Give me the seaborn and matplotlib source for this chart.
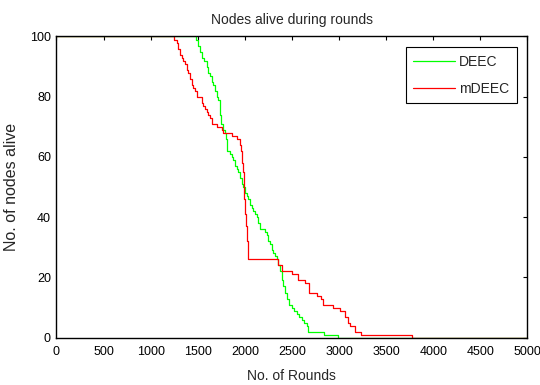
import numpy as np
import pandas as pd
import matplotlib
matplotlib.use("Agg")
import matplotlib.pyplot as plt
import seaborn as sns

# rounds at which the alive count changes (step data)
deec_rounds = [0, 1480, 1500, 1523, 1545, 1570, 1594, 1612, 1630, 1648, 1665, 1682,
               1700, 1718, 1736, 1740, 1745, 1771, 1789, 1800, 1807, 1842, 1860, 1877,
               1895, 1912, 1930, 1948, 1966, 1983, 2001, 2019, 2036, 2054, 2072, 2089,
               2107, 2125, 2142, 2160, 2213, 2231, 2250, 2266, 2284, 2301, 2320, 2337,
               2355, 2373, 2390, 2408, 2426, 2444, 2470, 2497, 2520, 2550, 2580, 2603,
               2630, 2656, 2673, 2843, 2988, 5000]
deec_alive = [100, 99, 97, 95, 93, 92, 90, 88, 87, 85, 84, 82,
              80, 79, 78, 74, 71, 69, 68, 66, 62, 61, 60, 59,
              57, 56, 55, 53, 51, 50, 48, 47, 46, 44, 43, 42,
              41, 40, 38, 36, 35, 34, 32, 31, 29, 28, 27, 26,
              24, 22, 19, 17, 15, 13, 11, 10, 9, 8, 7, 6,
              5, 4, 2, 1, 0, 0]

mdeec_rounds = [0, 1250, 1276, 1293, 1311, 1330, 1346, 1364, 1382, 1399, 1417, 1435,
                1452, 1470, 1488, 1541, 1559, 1576, 1594, 1612, 1630, 1647, 1700, 1754,
                1771, 1860, 1913, 1948, 1960, 1972, 1983, 1990, 1996, 2001, 2010, 2019,
                2030, 2355, 2390, 2503, 2567, 2638, 2684, 2762, 2805, 2833, 2939, 3010,
                3063, 3098, 3116, 3169, 3233, 3770, 5000]
mdeec_alive = [100, 99, 98, 96, 94, 93, 92, 91, 89, 88, 86, 84,
               83, 82, 80, 78, 77, 76, 75, 74, 73, 71, 70, 69,
               68, 67, 66, 64, 62, 58, 55, 50, 46, 41, 37, 32,
               26, 24, 22, 21, 19, 18, 15, 14, 13, 11, 10, 9,
               7, 5, 4, 2, 1, 0, 0]

x_ticks = [0, 500, 1000, 1500, 2000, 2500, 3000, 3500, 4000, 4500, 5000]
y_ticks = [0, 20, 40, 60, 80, 100]

sns.set_style("white")
plt.rcParams["font.family"] = ["Liberation Sans", "DejaVu Sans"]
plt.rcParams["xtick.direction"] = "in"
plt.rcParams["ytick.direction"] = "in"

fig = plt.figure(figsize=(5.4, 3.85), dpi=100)
ax = fig.add_axes([0.1046, 0.1229, 0.872, 0.7823])

df_deec = pd.DataFrame({"round": deec_rounds, "alive": deec_alive})
df_mdeec = pd.DataFrame({"round": mdeec_rounds, "alive": mdeec_alive})

sns.lineplot(data=df_deec, x="round", y="alive", ax=ax, color="#00ff00",
             drawstyle="steps-post", estimator=None, linewidth=0.9, label="DEEC")
sns.lineplot(data=df_mdeec, x="round", y="alive", ax=ax, color="#ff0000",
             drawstyle="steps-post", estimator=None, linewidth=0.9, label="mDEEC")

ax.set_xlim(0, 5000)
ax.set_ylim(0, 100)
ax.set_xticks(x_ticks)
ax.set_yticks(y_ticks)
ax.tick_params(axis="both", labelsize=9, length=3, width=0.8,
               top=True, right=True, colors="black")
ax.tick_params(axis="x", pad=6)
ax.tick_params(axis="y", pad=4)

for sp in ax.spines.values():
    sp.set_visible(True)
    sp.set_color("black")
    sp.set_linewidth(1.0)

ax.set_title("Nodes alive during rounds", fontsize=10, pad=9)
ax.set_xlabel("No. of Rounds", fontsize=10, labelpad=8)
ax.set_ylabel("No. of nodes alive", fontsize=11.5, labelpad=8)

leg = ax.legend(loc="upper right", fontsize=10, fancybox=False, framealpha=1,
                edgecolor="black", handlelength=3.0, handletextpad=0.3,
                labelspacing=0.95, borderaxespad=0.75, borderpad=0.55)
leg.get_frame().set_linewidth(0.8)

fig.savefig("out.png", dpi=100)
